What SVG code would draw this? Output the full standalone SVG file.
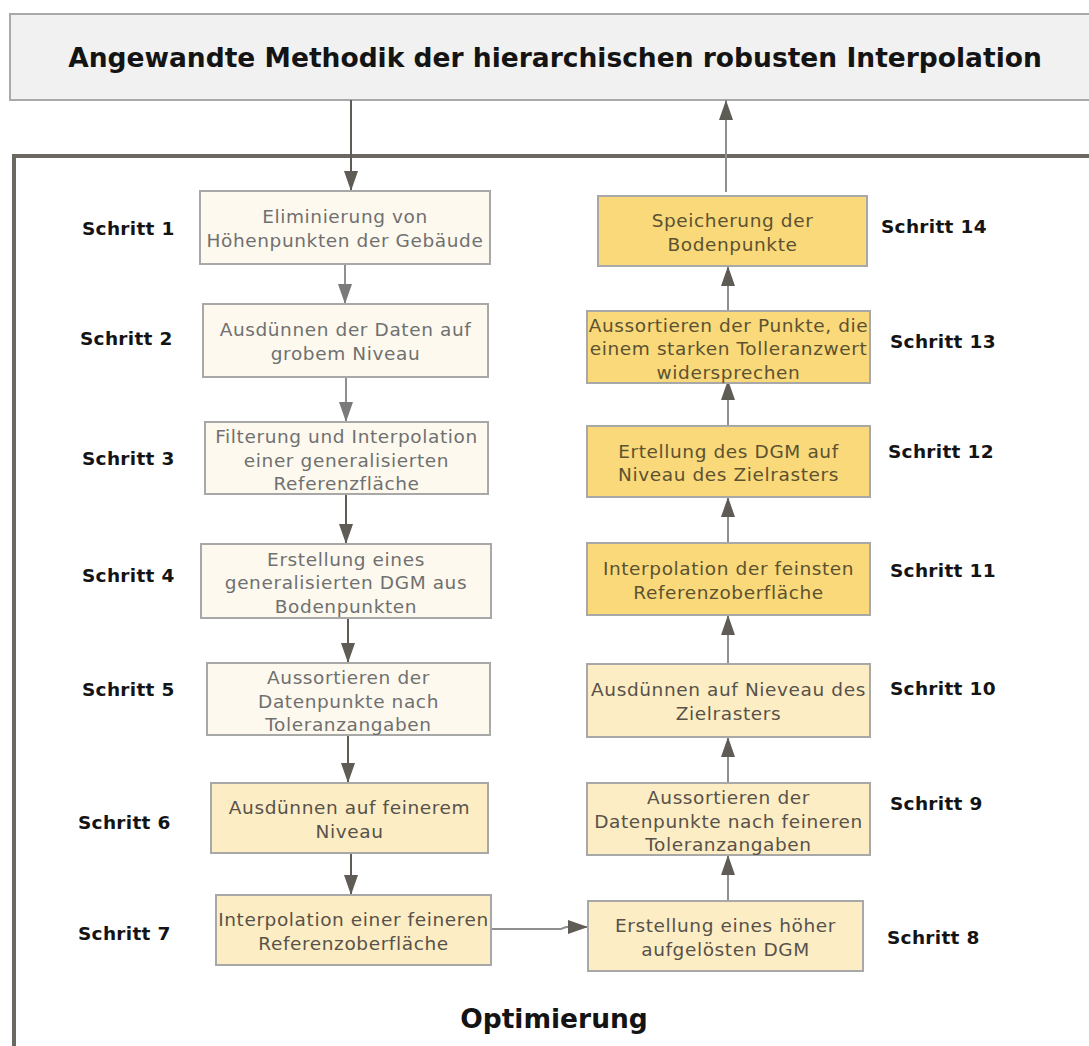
<svg xmlns="http://www.w3.org/2000/svg" width="1089" height="1046" viewBox="0 0 1089 1046">
<defs>
<style>
.bx{stroke:#a8a8a8;stroke-width:2}
.c{fill:#fdf9ef}
.y{fill:#fdedc4}
.g{fill:#f9d97a}
.t{font-family:"DejaVu Sans",Verdana,sans-serif;font-size:18.5px;letter-spacing:0.6px;text-anchor:middle}
.tc{fill:#707070}
.ty{fill:#57524a}
.tg{fill:#5c5231}
.lb{font-family:"DejaVu Sans",Verdana,sans-serif;font-size:18.5px;font-weight:bold;letter-spacing:0.3px;fill:#141414}
.ttl{font-family:"DejaVu Sans",Verdana,sans-serif;font-size:26.5px;font-weight:bold;fill:#141414;text-anchor:middle}
.ln{stroke:#5f5b55;stroke-width:2;fill:none}
.lnl{stroke:#8f8f8f;stroke-width:2;fill:none}
</style>
<marker id="ah" markerUnits="userSpaceOnUse" markerWidth="20" markerHeight="15" viewBox="0 0 20 14" refX="20" refY="7" orient="auto">
<path d="M0,0 L20,7 L0,14 Z" fill="#5f5b55"/>
</marker>
<marker id="ahl" markerUnits="userSpaceOnUse" markerWidth="20" markerHeight="15" viewBox="0 0 20 14" refX="20" refY="7" orient="auto">
<path d="M0,0 L20,7 L0,14 Z" fill="#7a7a7a"/>
</marker>
</defs>
<rect width="1089" height="1046" fill="#ffffff"/>

<g id="title">
<rect x="10" y="14" width="1090" height="86" fill="#f1f1f1" stroke="#a9a9a9" stroke-width="2"/>
<text class="ttl" x="555" y="67">Angewandte Methodik der hierarchischen robusten Interpolation</text>
</g>

<g id="frame">
<path d="M14,1050 V156 H1095" fill="none" stroke="#6b6862" stroke-width="4"/>
<text class="ttl" x="554" y="1028">Optimierung</text>
</g>

<g id="connectors">
<line class="ln" x1="351" y1="100" x2="351" y2="191" marker-end="url(#ah)"/>
<line class="lnl" x1="345" y1="264" x2="345" y2="304" marker-end="url(#ahl)"/>
<line class="lnl" x1="346" y1="377" x2="346" y2="422" marker-end="url(#ahl)"/>
<line class="ln" x1="346" y1="494" x2="346" y2="544" marker-end="url(#ah)"/>
<line class="ln" x1="348" y1="618" x2="348" y2="663" marker-end="url(#ah)"/>
<line class="ln" x1="348" y1="735" x2="348" y2="783" marker-end="url(#ah)"/>
<line class="ln" x1="351" y1="853" x2="351" y2="895" marker-end="url(#ah)"/>
<polyline class="lnl" points="491,929 561,929 566,927 588,927" marker-end="url(#ah)"/>
<line class="lnl" x1="728" y1="901" x2="728" y2="855" marker-end="url(#ah)"/>
<line class="lnl" x1="728" y1="783" x2="728" y2="737" marker-end="url(#ah)"/>
<line class="lnl" x1="728" y1="664" x2="728" y2="615" marker-end="url(#ah)"/>
<line class="lnl" x1="728" y1="543" x2="728" y2="497" marker-end="url(#ah)"/>
<line class="lnl" x1="728" y1="426" x2="728" y2="380" marker-end="url(#ah)"/>
<line class="lnl" x1="728" y1="311" x2="728" y2="266" marker-end="url(#ah)"/>
<line class="lnl" x1="726" y1="192" x2="726" y2="100" marker-end="url(#ah)"/>
</g>

<g id="n1">
<rect class="bx c" x="200" y="191" width="290" height="73"/>
<text class="t tc" x="345" y="223">Eliminierung von</text>
<text class="t tc" x="345" y="246.5">Höhenpunkten der Gebäude</text>
<text class="lb" x="82" y="235">Schritt 1</text>
</g>
<g id="n2">
<rect class="bx c" x="203" y="304" width="285" height="73"/>
<text class="t tc" x="345.5" y="336">Ausdünnen der Daten auf</text>
<text class="t tc" x="345.5" y="359.5">grobem Niveau</text>
<text class="lb" x="80" y="345">Schritt 2</text>
</g>
<g id="n3">
<rect class="bx c" x="205" y="422" width="283" height="72"/>
<text class="t tc" x="346.5" y="443">Filterung und Interpolation</text>
<text class="t tc" x="346.5" y="466.5">einer generalisierten</text>
<text class="t tc" x="346.5" y="490">Referenzfläche</text>
<text class="lb" x="82" y="465">Schritt 3</text>
</g>
<g id="n4">
<rect class="bx c" x="201" y="544" width="290" height="74"/>
<text class="t tc" x="346" y="565.5">Erstellung eines</text>
<text class="t tc" x="346" y="589">generalisierten DGM aus</text>
<text class="t tc" x="346" y="612.5">Bodenpunkten</text>
<text class="lb" x="82" y="582">Schritt 4</text>
</g>
<g id="n5">
<rect class="bx c" x="207" y="663" width="283" height="72"/>
<text class="t tc" x="348.5" y="684">Aussortieren der</text>
<text class="t tc" x="348.5" y="707.5">Datenpunkte nach</text>
<text class="t tc" x="348.5" y="731">Toleranzangaben</text>
<text class="lb" x="82" y="696">Schritt 5</text>
</g>
<g id="n6">
<rect class="bx y" x="211" y="783" width="277" height="70"/>
<text class="t ty" x="349.5" y="814">Ausdünnen auf feinerem</text>
<text class="t ty" x="349.5" y="837.5">Niveau</text>
<text class="lb" x="78" y="829">Schritt 6</text>
</g>
<g id="n7">
<rect class="bx y" x="216" y="895" width="275" height="70"/>
<text class="t ty" x="353.5" y="926">Interpolation einer feineren</text>
<text class="t ty" x="353.5" y="949.5">Referenzoberfläche</text>
<text class="lb" x="78" y="940">Schritt 7</text>
</g>
<g id="n8">
<rect class="bx y" x="588" y="901" width="275" height="70"/>
<text class="t ty" x="725.5" y="932">Erstellung eines höher</text>
<text class="t ty" x="725.5" y="955.5">aufgelösten DGM</text>
<text class="lb" x="887" y="944">Schritt 8</text>
</g>
<g id="n9">
<rect class="bx y" x="587" y="783" width="283" height="72"/>
<text class="t ty" x="728.5" y="804">Aussortieren der</text>
<text class="t ty" x="728.5" y="827.5">Datenpunkte nach feineren</text>
<text class="t ty" x="728.5" y="851">Toleranzangaben</text>
<text class="lb" x="890" y="810">Schritt 9</text>
</g>
<g id="n10">
<rect class="bx y" x="587" y="664" width="283" height="73"/>
<text class="t ty" x="728.5" y="696">Ausdünnen auf Nieveau des</text>
<text class="t ty" x="728.5" y="719.5">Zielrasters</text>
<text class="lb" x="890" y="695">Schritt 10</text>
</g>
<g id="n11">
<rect class="bx g" x="587" y="543" width="283" height="72"/>
<text class="t tg" x="728.5" y="575">Interpolation der feinsten</text>
<text class="t tg" x="728.5" y="598.5">Referenzoberfläche</text>
<text class="lb" x="890" y="577">Schritt 11</text>
</g>
<g id="n12">
<rect class="bx g" x="587" y="426" width="283" height="71"/>
<text class="t tg" x="728.5" y="457.5">Ertellung des DGM auf</text>
<text class="t tg" x="728.5" y="481">Niveau des Zielrasters</text>
<text class="lb" x="888" y="458">Schritt 12</text>
</g>
<g id="n13">
<rect class="bx g" x="587" y="311" width="283" height="72"/>
<text class="t tg" x="728.5" y="331.5">Aussortieren der Punkte, die</text>
<text class="t tg" x="728.5" y="355">einem starken Tolleranzwert</text>
<text class="t tg" x="728.5" y="378.5">widersprechen</text>
<text class="lb" x="890" y="348">Schritt 13</text>
</g>
<g id="n14">
<rect class="bx g" x="598" y="196" width="269" height="70"/>
<text class="t tg" x="732.5" y="227">Speicherung der</text>
<text class="t tg" x="732.5" y="250.5">Bodenpunkte</text>
<text class="lb" x="881" y="233">Schritt 14</text>
</g>
</svg>
